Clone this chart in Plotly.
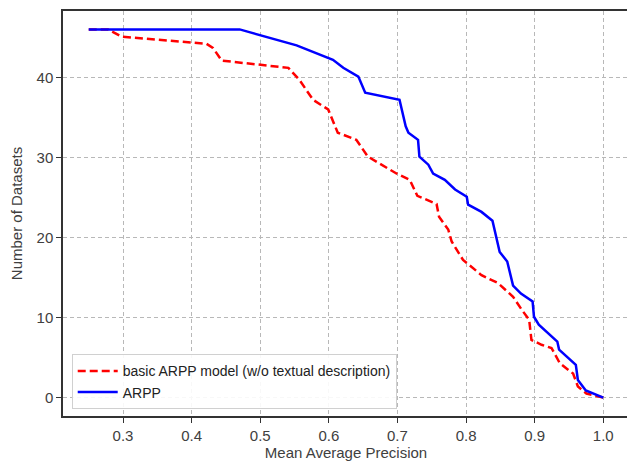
import plotly.graph_objects as go

# Data
arpp_map = [0.25, 0.47, 0.553, 0.606, 0.621, 0.643, 0.653, 0.703, 0.712, 0.716, 0.73, 0.732,
            0.745, 0.752, 0.769, 0.784, 0.801, 0.803, 0.8225, 0.8385, 0.849, 0.86, 0.8685,
            0.88, 0.897, 0.899, 0.906, 0.9195, 0.933, 0.9356, 0.96, 0.963, 0.9745, 1.0]
arpp_count = [46, 46, 44, 42.2, 41.2, 40.1, 38.1, 37.2, 33.9, 33.1, 32.2, 30.1,
              29.1, 28, 27.2, 26, 25.1, 24.1, 23.2, 22.1, 18.2, 17, 14,
              13, 12, 10.1, 9.1, 8, 7, 6, 4.1, 2.2, 0.9, 0]

basic_map = [0.25, 0.278, 0.298, 0.4216, 0.431, 0.444, 0.541, 0.557, 0.577, 0.599, 0.613,
             0.640, 0.657, 0.6985, 0.718, 0.729, 0.757, 0.7606, 0.774, 0.779, 0.7956, 0.8225,
             0.8467, 0.8685, 0.881, 0.892, 0.8953, 0.91, 0.9245, 0.9366, 0.956, 0.963, 0.9755, 1.0]
basic_count = [46, 46, 45.1, 44.2, 43.7, 42.1, 41.2, 39.7, 37.2, 36, 33.1,
               32.2, 30.1, 28, 27.2, 25.2, 24.2, 22.6, 21, 19.5, 17.2, 15.3,
               14.3, 12.6, 11, 9.7, 7.2, 6.6, 6.2, 4.3, 3, 1.4, 0.5, 0]

x_ticks = [0.3, 0.4, 0.5, 0.6, 0.7, 0.8, 0.9, 1.0]
x_tick_labels = ["0.3", "0.4", "0.5", "0.6", "0.7", "0.8", "0.9", "1.0"]
y_ticks = [0, 10, 20, 30, 40]

font_family = "Liberation Sans, Arial, sans-serif"
text_color = "#404040"

fig = go.Figure()
fig.add_trace(go.Scatter(
    x=basic_map, y=basic_count, mode="lines",
    name="basic ARPP model (w/o textual description)",
    line=dict(color="#ff0000", width=2.5, dash="8px,4px"),
))
fig.add_trace(go.Scatter(
    x=arpp_map, y=arpp_count, mode="lines", name="ARPP",
    line=dict(color="#0000ff", width=2.5),
))

# The figure is slightly wider than the window: like the reference, the
# right side of the axes frame falls just outside the visible picture.
fig.update_layout(
    width=640, height=461,
    margin=dict(l=63, r=11, t=11, b=45, autoexpand=False),
    paper_bgcolor="white", plot_bgcolor="white",
    font=dict(family=font_family, color=text_color, size=15),
    showlegend=True,
    legend=dict(
        x=0.0154, y=0.0165, xanchor="left", yanchor="bottom",
        bgcolor="rgba(255,255,255,0.9)", bordercolor="#d0d0d0", borderwidth=1,
        font=dict(size=14, color="#222222"),
        tracegroupgap=0, itemwidth=40,
    ),
    xaxis=dict(
        range=[0.2125, 1.0375],
        automargin=False,
        tickmode="array", tickvals=x_ticks, ticktext=x_tick_labels,
        ticks="outside", ticklen=5, tickcolor="#333333",
        showline=True, linecolor="#333333", linewidth=1.5, mirror=True,
        showgrid=True, gridcolor="#b8b8b8", griddash="4px,3px", gridwidth=1,
        zeroline=False,
        title=dict(text="Mean Average Precision", standoff=7, font=dict(size=15)),
        tickfont=dict(size=15),
    ),
    yaxis=dict(
        range=[-2.3, 48.3],
        automargin=False,
        tickmode="array", tickvals=y_ticks,
        ticks="outside", ticklen=5, tickcolor="#333333",
        showline=True, linecolor="#333333", linewidth=1.5, mirror=True,
        showgrid=True, gridcolor="#b8b8b8", griddash="4px,3px", gridwidth=1,
        zeroline=False,
        title=dict(text="Number of Datasets", standoff=10, font=dict(size=15)),
        tickfont=dict(size=15),
    ),
)

fig.write_html(
    "out.html",
    config={"displayModeBar": False},
    post_script="document.body.style.margin='0';document.body.style.overflow='hidden';",
)
